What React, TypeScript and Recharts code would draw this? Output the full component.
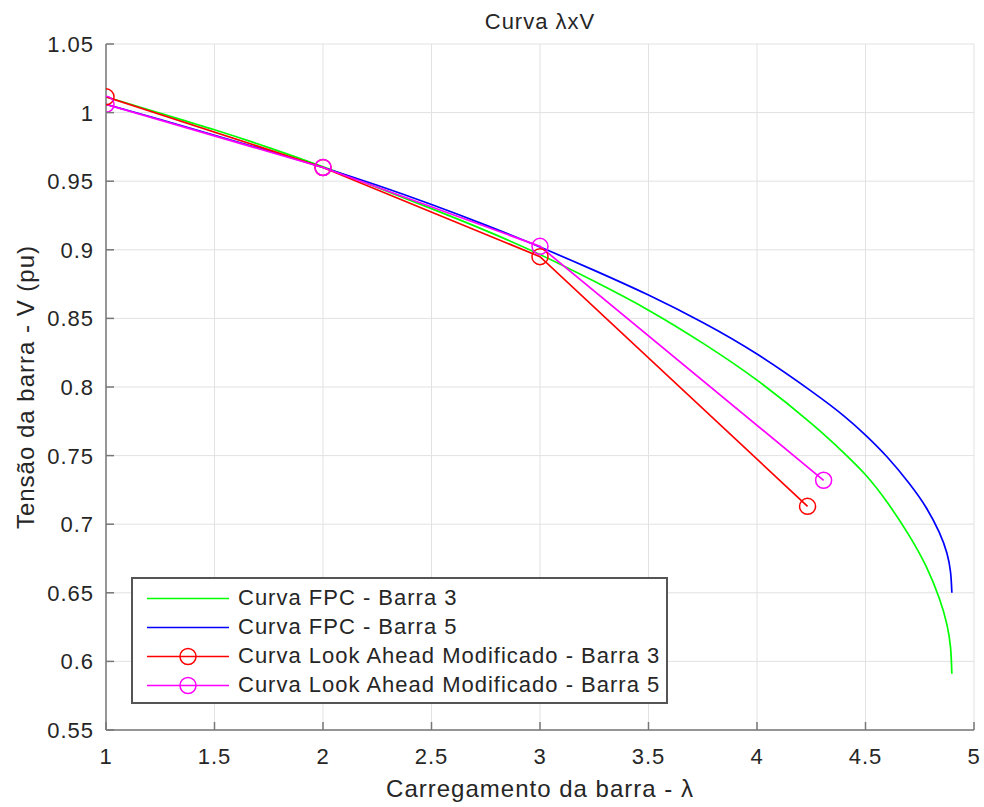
import { LineChart, Line, XAxis, YAxis, CartesianGrid } from "recharts"

// eixo x: carregamento (lambda), eixo y: tensão (pu)
const lambdaTicks = [1, 1.5, 2, 2.5, 3, 3.5, 4, 4.5, 5]
const voltageTicks = [0.55, 0.6, 0.65, 0.7, 0.75, 0.8, 0.85, 0.9, 0.95, 1, 1.05]

const fpcBarra3Lambda = [1, 1.25, 1.5, 1.75, 2, 2.25, 2.5, 2.75, 3, 3.25, 3.5, 3.75, 4, 4.25, 4.4, 4.5, 4.6, 4.7, 4.78, 4.84, 4.875, 4.892, 4.898]
const fpcBarra3V = [1.0115, 0.9995, 0.9875, 0.9745, 0.9605, 0.9455, 0.93, 0.914, 0.8965, 0.877, 0.856, 0.832, 0.805, 0.7735, 0.752, 0.736, 0.716, 0.692, 0.669, 0.646, 0.627, 0.61, 0.591]

const fpcBarra5Lambda = [1, 1.25, 1.5, 1.75, 2, 2.25, 2.5, 2.75, 3, 3.25, 3.5, 3.75, 4, 4.25, 4.4, 4.5, 4.6, 4.7, 4.78, 4.84, 4.875, 4.892, 4.898]
const fpcBarra5V = [1.006, 0.995, 0.9835, 0.972, 0.96, 0.947, 0.933, 0.918, 0.902, 0.885, 0.867, 0.847, 0.824, 0.797, 0.779, 0.765, 0.749, 0.73, 0.712, 0.694, 0.679, 0.665, 0.65]

const lookAheadBarra3Lambda = [1, 2, 3, 4.233]
const lookAheadBarra3V = [1.0115, 0.96, 0.895, 0.713]

const lookAheadBarra5Lambda = [1, 2, 3, 4.307]
const lookAheadBarra5V = [1.006, 0.96, 0.9025, 0.732]

const zip = (xs: number[], ys: number[]) => xs.map((x, i) => ({ x, v: ys[i] }))

const series = [
  { name: "Curva FPC - Barra 3", data: zip(fpcBarra3Lambda, fpcBarra3V), color: "#00ff00", marker: false },
  { name: "Curva FPC - Barra 5", data: zip(fpcBarra5Lambda, fpcBarra5V), color: "#0000ff", marker: false },
  { name: "Curva Look Ahead Modificado - Barra 3", data: zip(lookAheadBarra3Lambda, lookAheadBarra3V), color: "#ff0000", marker: true },
  { name: "Curva Look Ahead Modificado - Barra 5", data: zip(lookAheadBarra5Lambda, lookAheadBarra5V), color: "#ff00ff", marker: true },
]

const FONT = '"Liberation Sans", Arial, Helvetica, sans-serif'
const AXIS = "#777777"
const TEXT = "#262626"
const TICK_LEN = 8

const fmt = (v: number) => String(Number(v.toFixed(2)))

function BottomTick({ x, y, payload }: any) {
  return (
    <g>
      <line x1={x} x2={x} y1={y} y2={y - TICK_LEN} stroke={AXIS} strokeWidth={1.5} />
      <text x={x} y={y + 34} textAnchor="middle" fill={TEXT} fontSize={22} fontFamily={FONT} letterSpacing={1}>
        {fmt(payload.value)}
      </text>
    </g>
  )
}

function LeftTick({ x, y, payload }: any) {
  return (
    <g>
      <line x1={x} x2={x + TICK_LEN} y1={y} y2={y} stroke={AXIS} strokeWidth={1.5} />
      <text x={x - 12} y={y + 8} textAnchor="end" fill={TEXT} fontSize={22} fontFamily={FONT} letterSpacing={1}>
        {fmt(payload.value)}
      </text>
    </g>
  )
}

function TopTick({ x, y }: any) {
  return <line x1={x} x2={x} y1={y} y2={y + TICK_LEN} stroke={AXIS} strokeWidth={1.5} />
}

function RightTick({ x, y }: any) {
  return <line x1={x} x2={x - TICK_LEN} y1={y} y2={y} stroke={AXIS} strokeWidth={1.5} />
}

function LegendBox() {
  const rowCenters = [21, 50, 79, 108]
  return (
    <div
      style={{
        position: "absolute",
        left: 131,
        top: 577,
        width: 537,
        height: 127,
        boxSizing: "border-box",
        border: "2px solid #555555",
        background: "#ffffff",
      }}
    >
      {series.map((s, i) => (
        <div
          key={s.name}
          style={{
            position: "absolute",
            left: 0,
            top: rowCenters[i] - 14.5 - 2,
            height: 29,
            display: "flex",
            alignItems: "center",
          }}
        >
          <svg width={100} height={29} style={{ display: "block" }}>
            <line x1={14} x2={96} y1={14.5} y2={14.5} stroke={s.color} strokeWidth={1.7} />
            {s.marker && <circle cx={55} cy={14.5} r={8} fill="none" stroke={s.color} strokeWidth={1.5} />}
          </svg>
          <span
            style={{
              marginLeft: 5,
              fontFamily: FONT,
              fontSize: 22,
              letterSpacing: 1,
              color: TEXT,
              whiteSpace: "nowrap",
            }}
          >
            {s.name}
          </span>
        </div>
      ))}
    </div>
  )
}

export default function App() {
  return (
    <div
      style={{
        position: "absolute",
        left: 0,
        top: 0,
        width: 984,
        height: 807,
        background: "#ffffff",
        fontFamily: FONT,
        color: TEXT,
      }}
    >
      <LineChart width={984} height={807} margin={{ top: 44, right: 10, bottom: 0, left: 0 }}>
        <CartesianGrid stroke="#e2e2e2" strokeWidth={1} />
        <XAxis
          type="number"
          dataKey="x"
          domain={[1, 5]}
          ticks={lambdaTicks}
          height={77}
          tickSize={0}
          tickMargin={0}
          tick={BottomTick}
          axisLine={{ stroke: AXIS, strokeWidth: 1.5 }}
          tickLine={false}
          allowDataOverflow
        />
        <XAxis
          xAxisId="top"
          orientation="top"
          type="number"
          domain={[1, 5]}
          ticks={lambdaTicks}
          height={0}
          tickSize={0}
          tickMargin={0}
          tick={TopTick}
          axisLine={{ stroke: AXIS, strokeWidth: 1.5 }}
          tickLine={false}
          allowDataOverflow
        />
        <YAxis
          type="number"
          domain={[0.55, 1.05]}
          ticks={voltageTicks}
          width={106}
          tickSize={0}
          tickMargin={0}
          tick={LeftTick}
          axisLine={{ stroke: AXIS, strokeWidth: 1.5 }}
          tickLine={false}
          allowDataOverflow
        />
        <YAxis
          yAxisId="right"
          orientation="right"
          type="number"
          domain={[0.55, 1.05]}
          ticks={voltageTicks}
          width={0}
          tickSize={0}
          tickMargin={0}
          tick={RightTick}
          axisLine={{ stroke: AXIS, strokeWidth: 1.5 }}
          tickLine={false}
          allowDataOverflow
        />
        {series.map((s) => (
          <Line
            key={s.name}
            data={s.data}
            dataKey="v"
            name={s.name}
            type={s.marker ? "linear" : "natural"}
            stroke={s.color}
            strokeWidth={1.7}
            dot={s.marker ? { r: 8, fill: "none", stroke: s.color, strokeWidth: 1.5 } : false}
            activeDot={false}
            isAnimationActive={false}
          />
        ))}
      </LineChart>

      <div
        style={{
          position: "absolute",
          left: 0,
          top: 11,
          width: 1080,
          textAlign: "center",
          fontSize: 22,
          lineHeight: "22px",
          letterSpacing: 1,
        }}
      >
        Curva λxV
      </div>

      <div
        style={{
          position: "absolute",
          left: 0,
          top: 777,
          width: 1080,
          textAlign: "center",
          fontSize: 24,
          lineHeight: "24px",
          letterSpacing: 1,
        }}
      >
        Carregamento da barra - λ
      </div>

      <div
        style={{
          position: "absolute",
          left: 25.7 - 200,
          top: 387 - 12,
          width: 400,
          height: 24,
          textAlign: "center",
          fontSize: 24,
          lineHeight: "24px",
          letterSpacing: 1,
          transform: "rotate(-90deg)",
          whiteSpace: "nowrap",
        }}
      >
        Tensão da barra - V (pu)
      </div>

      <LegendBox />
    </div>
  )
}
